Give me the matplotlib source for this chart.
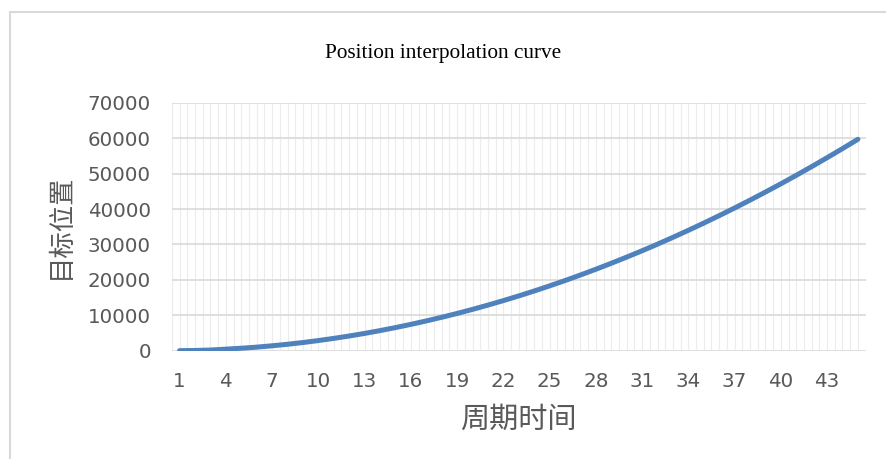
import matplotlib
matplotlib.use("Agg")
import matplotlib.pyplot as plt
from matplotlib.lines import Line2D

# periods 1..45 and target position
periods = list(range(1, 46))
position = [0, 60, 180, 430, 690, 1000, 1380, 1810, 2300, 2860,
            3470, 4140, 4870, 5670, 6520, 7430, 8400, 9430, 10510, 11660,
            12870, 14140, 15460, 16850, 18300, 19800, 21370, 22990, 24680, 26420,
            28220, 30080, 32000, 33990, 36030, 38130, 40290, 42510, 44790, 47120,
            49520, 51980, 54500, 57070, 59700]
yticks = [0, 10000, 20000, 30000, 40000, 50000, 60000, 70000]
xtick_labels = [1, 4, 7, 10, 13, 16, 19, 22, 25, 28, 31, 34, 37, 40, 43]

cjk = ['Noto Sans CJK SC', 'DejaVu Sans']
grey = '#595959'

fig = plt.figure(figsize=(8.86, 4.59), dpi=100)
ax = fig.add_axes([0.194, 0.236, 0.783, 0.540])

# vertical grid every half period (light), horizontal every 10000
for k in range(len(periods) * 2 + 1):
    ax.axvline(0.5 + k * 0.5, color='#ececec', lw=0.8, zorder=0)
for v in yticks:
    ax.axhline(v, color='#d9d9d9', lw=1.2, zorder=1)

ax.plot(periods, position, color='#4f81bd', lw=3.6, solid_capstyle='round', zorder=3)

ax.set_xlim(0.5, 45.5)
ax.set_ylim(0, 70000)
ax.set_yticks(yticks)
ax.set_yticklabels([str(v) for v in yticks])
ax.set_xticks(xtick_labels)
ax.set_xticklabels([str(v) for v in xtick_labels])
ax.tick_params(length=0, labelsize=14.3, labelcolor=grey)
ax.tick_params(axis='y', pad=15)
ax.tick_params(axis='x', pad=15)
for s in ax.spines.values():
    s.set_visible(False)

ax.set_xlabel('周期时间', family=cjk, fontsize=21, color=grey, labelpad=10)
ax.set_ylabel('目标位置', family=cjk, fontsize=19, color=grey, labelpad=10)

fig.text(0.5, 0.884, 'Position interpolation curve', ha='center', va='center',
         family='Liberation Serif', fontsize=15.3, color='black')

# outer frame of the chart box (only left and top are in view)
fig.add_artist(Line2D([0.0113, 0.0113], [0, 0.974], transform=fig.transFigure,
                      color='#d9d9d9', lw=1.5))
fig.add_artist(Line2D([0.0113, 1.0], [0.974, 0.974], transform=fig.transFigure,
                      color='#d9d9d9', lw=1.5))

fig.savefig('out.png', dpi=100)
